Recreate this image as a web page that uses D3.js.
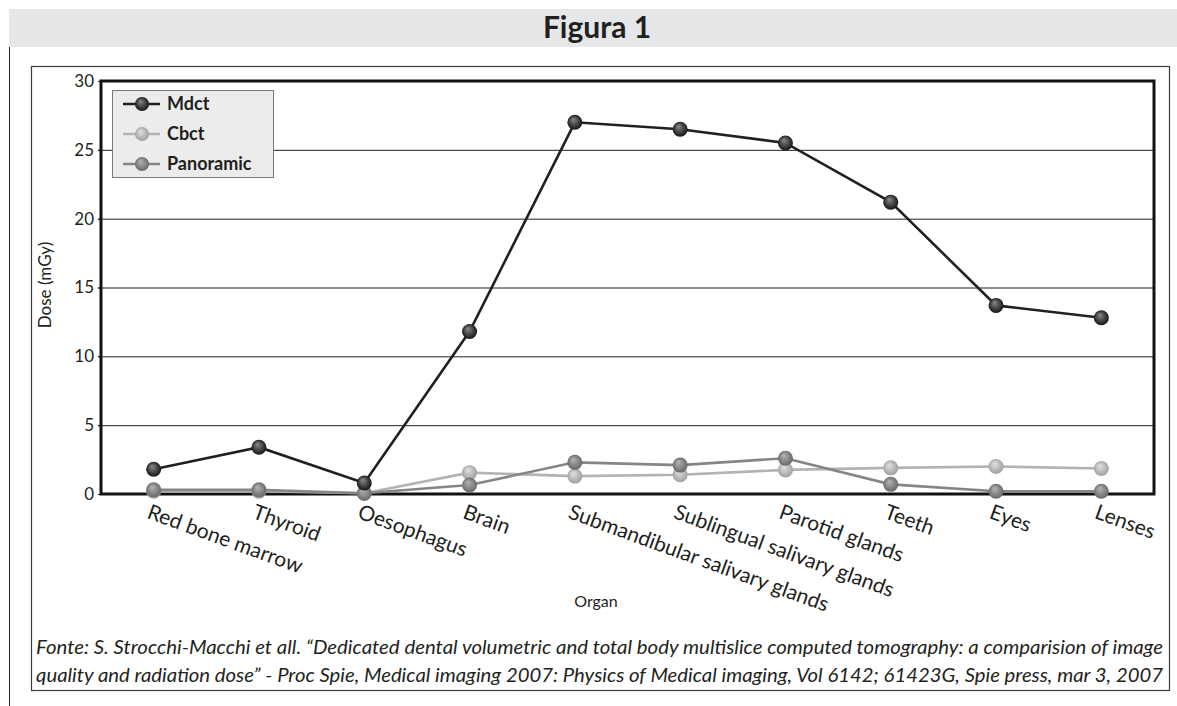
<!DOCTYPE html>
<html>
<head>
<meta charset="utf-8">
<script src="https://cdn.jsdelivr.net/npm/d3@7"></script>
<style>
  body { margin: 0; background: #fff; }
  svg { display: block; font-family: Lato, "Open Sans", sans-serif; }
</style>
</head>
<body>
<div id="chart"></div>
<script>
// data
const organs = ['Red bone marrow', 'Thyroid', 'Oesophagus', 'Brain', 'Submandibular salivary glands',
  'Sublingual salivary glands', 'Parotid glands', 'Teeth', 'Eyes', 'Lenses'];
const mdct = [1.8, 3.4, 0.8, 11.8, 27.0, 26.5, 25.5, 21.2, 13.7, 12.8];
const cbct = [0.2, 0.2, 0.05, 1.55, 1.3, 1.4, 1.75, 1.9, 2.0, 1.85];
const panoramic = [0.3, 0.3, 0.05, 0.65, 2.3, 2.1, 2.6, 0.7, 0.2, 0.2];
const yTicks = [0, 5, 10, 15, 20, 25, 30];

const series = [
  {name: 'Mdct', values: mdct, line: '#231f20', light: '#8a8a8a', dark: '#0d0d0d'},
  {name: 'Cbct', values: cbct, line: '#b3b3b3', light: '#e2e2e2', dark: '#9c9c9c'},
  {name: 'Panoramic', values: panoramic, line: '#858585', light: '#b5b5b5', dark: '#636363'}
];

const width = 1177, height = 706;
const plot = {left: 101, right: 1154, top: 81, bottom: 494};

const svg = d3.select('#chart').append('svg')
  .attr('width', width)
  .attr('height', height);

// sphere gradients for the markers
const defs = svg.append('defs');
series.forEach((s, i) => {
  const g = defs.append('radialGradient')
    .attr('id', 'ball' + i)
    .attr('cx', '50%').attr('cy', '50%').attr('r', '55%')
    .attr('fx', '38%').attr('fy', '30%');
  g.append('stop').attr('offset', '0%').attr('stop-color', s.light);
  g.append('stop').attr('offset', '100%').attr('stop-color', s.dark);
});

// header band
svg.append('rect')
  .attr('x', 9).attr('y', 9)
  .attr('width', width - 9).attr('height', 38)
  .attr('fill', '#e6e7e8');

svg.append('text')
  .attr('x', 597).attr('y', 38)
  .attr('text-anchor', 'middle')
  .attr('font-size', 30)
  .attr('font-weight', 'bold')
  .attr('fill', '#231f20')
  .text('Figura 1');

// page rule on the left
svg.append('line')
  .attr('x1', 9.5).attr('x2', 9.5)
  .attr('y1', 47).attr('y2', height)
  .attr('stroke', '#231f20').attr('stroke-width', 1);

// outer frame
svg.append('rect')
  .attr('x', 31.5).attr('y', 66.5)
  .attr('width', 1138).attr('height', 624)
  .attr('fill', 'none')
  .attr('stroke', '#3a3a3a').attr('stroke-width', 1.2);

const x = d3.scalePoint()
  .domain(organs)
  .range([plot.left, plot.right])
  .padding(0.5);

const y = d3.scaleLinear()
  .domain([0, 30])
  .range([plot.bottom, plot.top]);

// grid lines
svg.append('g')
  .selectAll('line')
  .data(yTicks.filter(d => d > 0 && d < 30))
  .join('line')
  .attr('x1', plot.left - 3).attr('x2', plot.right)
  .attr('y1', d => y(d) + 0.5).attr('y2', d => y(d) + 0.5)
  .attr('stroke', '#231f20').attr('stroke-width', 1);

// y axis
const yAxis = svg.append('g')
  .attr('transform', `translate(${plot.left},0)`)
  .call(d3.axisLeft(y).tickValues(yTicks).tickSize(3).tickPadding(4));
yAxis.select('.domain').remove();
yAxis.selectAll('text')
  .attr('font-size', 17)
  .attr('fill', '#231f20')
  .style('font-family', 'Lato, sans-serif');
yAxis.selectAll('line').attr('stroke', '#231f20');

// plot frame
svg.append('rect')
  .attr('x', plot.left).attr('y', plot.top)
  .attr('width', plot.right - plot.left).attr('height', plot.bottom - plot.top)
  .attr('fill', 'none')
  .attr('stroke', '#111').attr('stroke-width', 3);

// x labels, slanted
svg.append('g')
  .selectAll('text')
  .data(organs)
  .join('text')
  .attr('transform', d => `translate(${x(d) - 2},${plot.bottom + 8}) rotate(20)`)
  .attr('dy', '0.8em')
  .attr('font-size', 21)
  .attr('fill', '#231f20')
  .text(d => d);

// axis titles
svg.append('text')
  .attr('x', 596).attr('y', 607)
  .attr('text-anchor', 'middle')
  .attr('font-size', 16)
  .attr('fill', '#231f20')
  .text('Organ');

svg.append('text')
  .attr('transform', 'translate(51,285) rotate(-90)')
  .attr('text-anchor', 'middle')
  .attr('font-size', 17)
  .attr('fill', '#231f20')
  .text('Dose (mGy)');

// lines and markers, light series first so Mdct sits on top
const line = d3.line()
  .x((d, i) => x(organs[i]))
  .y(d => y(d));

const drawOrder = [1, 2, 0];
drawOrder.forEach(i => {
  const s = series[i];
  svg.append('path')
    .datum(s.values)
    .attr('fill', 'none')
    .attr('stroke', s.line)
    .attr('stroke-width', 2.6)
    .attr('d', line);
});
drawOrder.forEach(i => {
  const s = series[i];
  svg.append('g')
    .selectAll('circle')
    .data(s.values)
    .join('circle')
    .attr('cx', (d, j) => x(organs[j]))
    .attr('cy', d => y(d))
    .attr('r', 7.5)
    .attr('fill', `url(#ball${i})`);
});

// legend
const legend = svg.append('g');
legend.append('rect')
  .attr('x', 112.5).attr('y', 90.5)
  .attr('width', 161).attr('height', 87)
  .attr('fill', '#ececec')
  .attr('stroke', '#7a7a7a').attr('stroke-width', 1);

series.forEach((s, i) => {
  const ly = 104 + i * 30;
  legend.append('line')
    .attr('x1', 123).attr('x2', 160)
    .attr('y1', ly).attr('y2', ly)
    .attr('stroke', s.line).attr('stroke-width', 2.6);
  legend.append('circle')
    .attr('cx', 142).attr('cy', ly)
    .attr('r', 7)
    .attr('fill', `url(#ball${i})`);
  legend.append('text')
    .attr('x', 167).attr('y', ly + 6)
    .attr('font-size', 18)
    .attr('font-weight', 'bold')
    .attr('fill', '#231f20')
    .text(s.name);
});

// source caption
const caption = [
  'Fonte: S. Strocchi-Macchi et all. \u201cDedicated dental volumetric and total body multislice computed tomography: a comparision of image',
  'quality and radiation dose\u201d - Proc Spie, Medical imaging 2007: Physics of Medical imaging, Vol 6142; 61423G, Spie press, mar 3, 2007'
];
svg.append('g')
  .selectAll('text')
  .data(caption)
  .join('text')
  .attr('x', 36)
  .attr('y', (d, i) => 654 + i * 28)
  .attr('font-size', 19)
  .attr('font-style', 'italic')
  .attr('fill', '#231f20')
  .attr('textLength', 1127)
  .attr('lengthAdjust', 'spacingAndGlyphs')
  .text(d => d);
</script>
</body>
</html>
